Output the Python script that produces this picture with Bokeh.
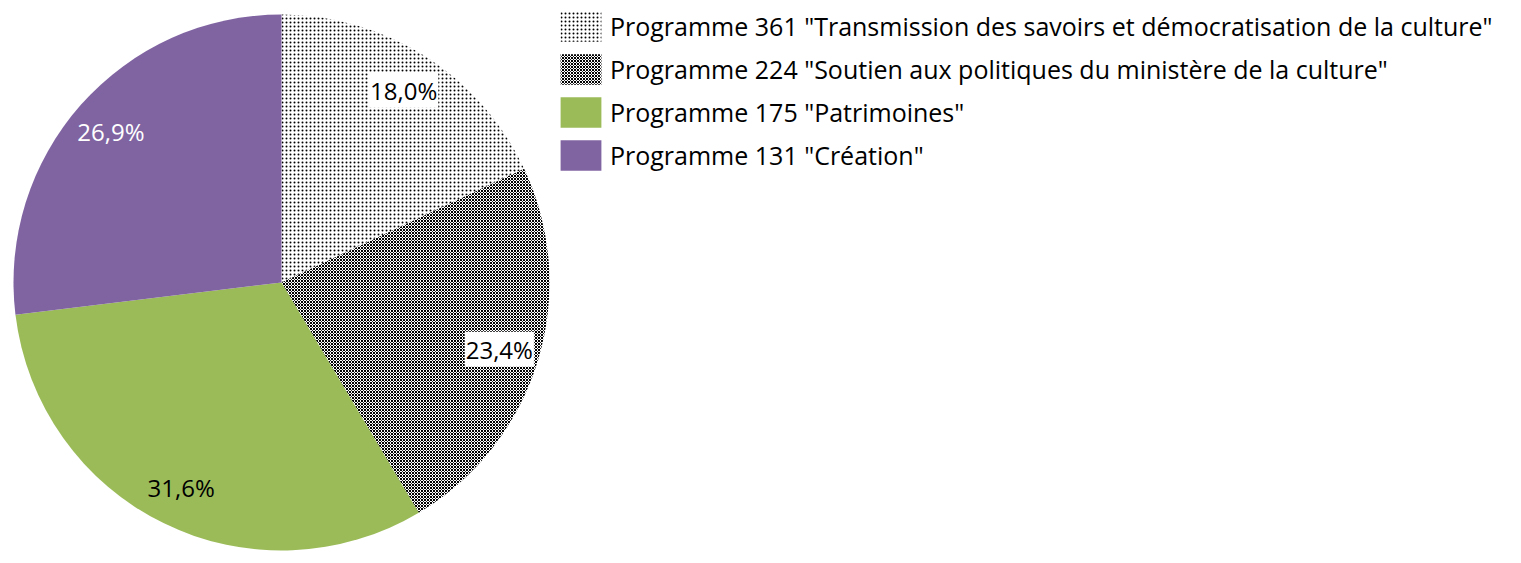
import math
from bokeh.plotting import figure
from bokeh.models import Range1d, Legend, LegendItem
from bokeh.core.properties import value
from bokeh.embed import file_html
from bokeh.resources import INLINE

# ---- data ----
programmes = [
    'Programme 361 "Transmission des savoirs et démocratisation de la culture"',
    'Programme 224 "Soutien aux politiques du ministère de la culture"',
    'Programme 175 "Patrimoines"',
    'Programme 131 "Création"',
]
shares = [18.0, 23.4, 31.6, 26.9]
labels = ["18,0%", "23,4%", "31,6%", "26,9%"]

# ---- styles ----
fill_colors = ["white", "white", "#9BBB59", "#8064A2"]
hatch_patterns = ["dot", "diagonal_cross", " ", " "]
hatch_scales = [4, 3, 1, 1]
hatch_weights = [0.6, 1.0, 1, 1]
label_colors = ["black", "black", "black", "white"]
label_bg = ["white", "white", None, None]

W, H = 1513, 560
FONT = "Open Sans"

p = figure(width=W, height=H, output_backend="svg", toolbar_location=None,
           x_range=Range1d(0, W), y_range=Range1d(0, H), min_border=0)
p.axis.visible = False
p.grid.visible = False
p.outline_line_color = None

cx, cy, R = 281, H - 282, 268
total = sum(shares)
start = math.pi / 2
renderers = []
for i, s in enumerate(shares):
    ang = 2 * math.pi * s / total
    end = start - ang
    r = p.wedge(x=cx, y=cy, radius=R, start_angle=end, end_angle=start,
                fill_color=fill_colors[i], line_color=None,
                hatch_pattern=hatch_patterns[i], hatch_scale=hatch_scales[i],
                hatch_weight=hatch_weights[i], hatch_color="black")
    renderers.append(r)
    mid = (start + end) / 2
    lx = cx + 0.85 * R * math.cos(mid)
    ly = cy + 0.85 * R * math.sin(mid)
    p.text(x=[lx], y=[ly], text=[labels[i]], text_align="center",
           text_baseline="middle", text_font=value(FONT),
           text_font_size="24px", text_color=label_colors[i],
           background_fill_color=label_bg[i], padding=1)
    start = end

gh, sp = 38, 5
leg_h = 4 * gh + 3 * sp
legend = Legend(items=[LegendItem(label=programmes[i], renderers=[renderers[i]])
                       for i in range(4)],
                location=(555, H - 7 - leg_h), orientation="vertical",
                glyph_width=51, glyph_height=gh, label_height=gh,
                spacing=sp, label_standoff=4, padding=0, margin=0,
                border_line_color=None, background_fill_alpha=0,
                label_text_font=FONT, label_text_font_size="25px",
                label_text_color="black")
p.add_layout(legend)

open("out.html", "w").write(file_html(p, INLINE))
